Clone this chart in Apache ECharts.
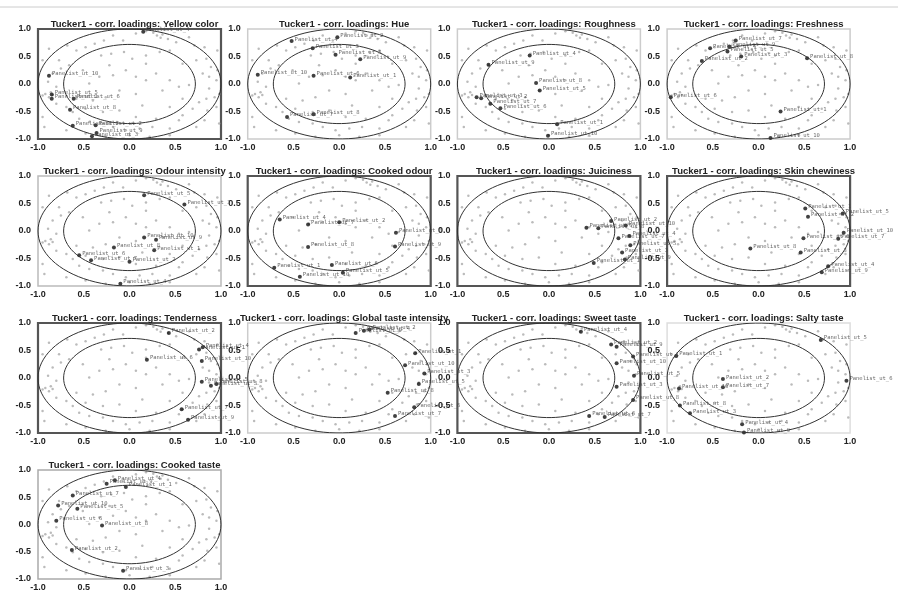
<!DOCTYPE html>
<html>
<head>
<meta charset="utf-8">
<title>Tucker1 - corr. loadings</title>
<script src="https://cdn.jsdelivr.net/npm/echarts@6/dist/echarts.min.js"></script>
<style>
    html, body { margin: 0; padding: 0; background: #fff; }
    #chart { width: 898px; height: 592px; }
</style>
</head>
<body>
<div id="chart"></div>
<script type="text/javascript">
    // attribute names, one panel each
    var attributes = ['Yellow color', 'Hue', 'Roughness', 'Freshness', 'Odour intensity', 'Cooked odour',
        'Juiciness', 'Skin chewiness', 'Tenderness', 'Global taste intensity', 'Sweet taste', 'Salty taste', 'Cooked taste'];

    var xTickLabels = ['-1.0', '0.5', '0.0', '0.5', '1.0'];
    var yTickLabels = ['-1.0', '-0.5', '0.0', '0.5', '1.0'];

    // panelist loadings per attribute: [x, y, panelist no]
    var yellowColor = [[0.15, 0.95, 4], [-0.88, 0.15, 10], [-0.85, -0.19, 5], [-0.85, -0.27, 1], [-0.61, -0.27, 6],
        [-0.65, -0.47, 8], [-0.62, -0.76, 7], [-0.37, -0.75, 2], [-0.36, -0.89, 9], [-0.41, -0.95, 3]];
    var hue = [[-0.52, 0.78, 4], [-0.02, 0.85, 2], [-0.29, 0.65, 3], [-0.04, 0.53, 5], [0.23, 0.45, 9],
        [-0.89, 0.17, 10], [-0.28, 0.15, 6], [0.12, 0.12, 1], [-0.28, -0.55, 8], [-0.57, -0.60, 7]];
    var roughness = [[-0.21, 0.52, 4], [-0.66, 0.35, 9], [-0.14, 0.02, 8], [-0.10, -0.12, 5], [-0.79, -0.24, 3],
        [-0.74, -0.26, 2], [-0.64, -0.36, 7], [-0.53, -0.44, 6], [0.09, -0.73, 1], [-0.01, -0.94, 10]];
    var freshness = [[-0.25, 0.79, 7], [-0.53, 0.65, 4], [-0.32, 0.68, 9], [-0.34, 0.59, 5], [-0.19, 0.50, 3],
        [-0.62, 0.42, 2], [0.53, 0.47, 8], [-0.96, -0.24, 6], [0.24, -0.50, 1], [0.13, -0.98, 10]];
    var odourIntensity = [[0.16, 0.65, 5], [0.60, 0.48, 3], [0.16, -0.12, 10], [0.29, -0.16, 9], [-0.17, -0.30, 8],
        [0.27, -0.35, 1], [-0.55, -0.44, 6], [-0.42, -0.53, 7], [0.00, -0.56, 2], [-0.10, -0.96, 4]];
    var cookedOdour = [[-0.65, 0.21, 4], [-0.34, 0.12, 7], [0.00, 0.16, 2], [0.62, -0.03, 3], [0.61, -0.28, 9],
        [-0.34, -0.29, 8], [-0.08, -0.62, 6], [0.04, -0.76, 5], [-0.71, -0.67, 1], [-0.43, -0.83, 10]];
    var juiciness = [[0.68, 0.18, 2], [0.41, 0.06, 6], [0.54, 0.05, 8], [0.84, 0.10, 10], [0.88, -0.09, 4],
        [0.76, -0.13, 7], [0.89, -0.26, 5], [0.80, -0.39, 3], [0.83, -0.52, 9], [0.49, -0.58, 1]];
    var skinChewiness = [[0.51, 0.41, 1], [0.54, 0.26, 2], [0.92, 0.32, 5], [0.93, -0.03, 10], [0.87, -0.14, 7],
        [0.49, -0.13, 6], [-0.09, -0.32, 8], [0.46, -0.39, 3], [0.76, -0.64, 4], [0.69, -0.75, 9]];
    var tenderness = [[0.43, 0.82, 2], [0.76, 0.52, 1], [0.80, 0.56, 4], [0.19, 0.33, 6], [0.79, 0.31, 10],
        [0.79, -0.07, 5], [0.89, -0.14, 3], [0.95, -0.11, 8], [0.57, -0.57, 7], [0.64, -0.76, 9]];
    var globalTaste = [[0.18, 0.82, 9], [0.33, 0.88, 2], [0.27, 0.86, 4], [0.83, 0.45, 1], [0.72, 0.23, 10],
        [0.93, 0.08, 3], [0.87, -0.11, 5], [0.53, -0.27, 8], [0.82, -0.53, 6], [0.61, -0.69, 7]];
    var sweetTaste = [[0.35, 0.84, 4], [0.68, 0.61, 2], [0.74, 0.57, 9], [0.92, 0.39, 1], [0.74, 0.27, 10],
        [0.93, 0.04, 5], [0.74, -0.16, 3], [0.92, -0.40, 8], [0.44, -0.69, 6], [0.61, -0.71, 7]];
    var saltyTaste = [[0.68, 0.69, 5], [-0.90, 0.40, 1], [-0.39, -0.02, 2], [-0.39, -0.17, 7], [0.96, -0.05, 6],
        [-0.87, -0.19, 10], [-0.86, -0.50, 8], [-0.75, -0.64, 3], [-0.18, -0.84, 4], [-0.16, -0.99, 9]];
    var cookedTaste = [[-0.16, 0.81, 4], [-0.25, 0.75, 9], [-0.04, 0.69, 1], [-0.62, 0.53, 7], [-0.78, 0.35, 10],
        [-0.57, 0.29, 5], [-0.80, 0.07, 6], [-0.30, -0.02, 8], [-0.63, -0.47, 2], [-0.07, -0.85, 3]];

    // grey loadings shown behind every panel
    var greyPoints = [[-0.28, 0.79], [-0.18, 0.88], [-0.07, 0.79], [0.07, 0.92], [0.18, 0.96], [0.26, 0.93],
        [0.36, 0.90], [0.42, 0.82], [0.51, 0.76], [0.65, 0.85], [0.71, 0.70], [0.82, 0.67], [-0.68, 0.70],
        [-0.58, 0.61], [-0.48, 0.67], [-0.38, 0.73], [-0.31, 0.52], [-0.20, 0.55], [-0.06, 0.58], [0.03, 0.46],
        [0.18, 0.52], [0.33, 0.58], [0.44, 0.61], [0.58, 0.37], [0.73, 0.43], [0.84, 0.46], [0.89, 0.31],
        [0.96, 0.25], [0.95, 0.07], [0.87, 0.13], [0.80, 0.19], [0.87, -0.08], [0.93, -0.24], [0.84, -0.27],
        [0.76, -0.33], [0.95, -0.42], [0.85, -0.48], [0.69, -0.45], [0.58, -0.57], [0.54, -0.66], [0.82, -0.66],
        [0.73, -0.78], [0.44, -0.81], [0.25, -0.78], [0.11, -0.81], [-0.04, -0.84], [-0.18, -0.78], [-0.29, -0.72],
        [-0.44, -0.69], [-0.55, -0.63], [-0.62, -0.51], [-0.69, -0.42], [-0.80, -0.36], [-0.88, -0.24],
        [-0.95, -0.21], [-0.86, -0.15], [-0.80, -0.05], [-0.89, 0.04], [-0.84, 0.19], [-0.75, 0.28], [-0.66, 0.34],
        [-0.51, 0.25], [-0.77, 0.43], [-0.44, 0.01], [-0.33, 0.13], [-0.18, 0.16], [-0.04, 0.25], [0.07, 0.13],
        [0.18, 0.07], [0.29, 0.19], [0.44, 0.07], [0.54, -0.05], [0.36, -0.12], [0.07, -0.18], [-0.11, -0.12],
        [-0.26, -0.24], [-0.40, -0.30], [-0.48, -0.45], [-0.58, -0.27], [0.14, -0.39], [0.44, -0.42], [0.58, -0.27],
        [-0.11, -0.48], [-0.29, -0.51], [0.07, -0.60], [0.29, -0.63], [0.00, -0.93], [-0.26, -0.96], [0.22, -0.96],
        [0.44, -0.93], [-0.48, -0.90], [-0.69, -0.84], [-0.93, -0.78], [-0.95, -0.60], [-0.95, 0.43], [-0.88, 0.64],
        [0.96, 0.61], [0.98, -0.72], [0.98, -0.18], [0.65, -0.02], [-0.22, 0.34], [0.18, 0.37], [-0.92, -0.18],
        [-0.84, -0.20], [0.30, 0.88], [0.34, 0.84]];

    var circleRadii = [1, 0.72];

    var panels = [yellowColor, hue, roughness, freshness, odourIntensity, cookedOdour, juiciness,
        skinChewiness, tenderness, globalTaste, sweetTaste, saltyTaste, cookedTaste];
    // frame colour of each panel
    var frames = ['#555', '#ccc', '#ccc', '#ccc', '#bbb', '#555', '#555', '#555', '#555', '#ccc', '#555', '#ddd', '#aaa'];

    var colLeft = 38, colStep = 209.7, rowTop = 29, rowStep = 147, plotW = 183, plotH = 110;
    var axisFont = {fontFamily: 'Liberation Sans', fontWeight: 'bold', fontSize: 9, color: '#222'};

    function circle(r) {
        var pts = [];
        for (var a = 0; a <= 360; a += 4) {
            pts.push([r * Math.cos(a * Math.PI / 180), r * Math.sin(a * Math.PI / 180)]);
        }
        return pts;
    }

    var grids = [], xAxes = [], yAxes = [], titles = [], series = [];
    panels.forEach(function (pts, i) {
        var left = colLeft + (i % 4) * colStep;
        var top = rowTop + Math.floor(i / 4) * rowStep;
        grids.push({
            left: left, top: top, width: plotW, height: plotH,
            show: true, borderColor: frames[i], borderWidth: frames[i] === '#555' ? 2.2 : 1.5,
            backgroundColor: 'transparent'
        });
        titles.push({
            text: 'Tucker1 - corr. loadings: ' + attributes[i],
            left: left + plotW / 2, top: top - 15, textAlign: 'center',
            textStyle: {fontFamily: 'Liberation Sans', fontWeight: 'bold', fontSize: 9.5, color: '#222'}
        });
        xAxes.push({
            gridIndex: i, type: 'value', min: -1, max: 1, interval: 0.5,
            axisLine: {show: false}, axisTick: {show: false}, splitLine: {show: false},
            axisLabel: Object.assign({
                margin: 4, showMinLabel: true, showMaxLabel: true,
                formatter: function (v) { return xTickLabels[Math.round((v + 1) / 0.5)]; }
            }, axisFont)
        });
        yAxes.push({
            gridIndex: i, type: 'value', min: -1, max: 1, interval: 0.5,
            axisLine: {show: false}, axisTick: {show: false}, splitLine: {show: false},
            axisLabel: Object.assign({
                margin: 7, showMinLabel: true, showMaxLabel: true,
                formatter: function (v) { return yTickLabels[Math.round((v + 1) / 0.5)]; }
            }, axisFont)
        });
        circleRadii.forEach(function (r) {
            series.push({
                type: 'line', xAxisIndex: i, yAxisIndex: i, data: circle(r), showSymbol: false,
                silent: true, lineStyle: {color: '#333', width: 1}
            });
        });
        series.push({
            type: 'scatter', xAxisIndex: i, yAxisIndex: i, data: greyPoints, symbolSize: 2.5,
            silent: true, itemStyle: {color: '#aaa'}
        });
        series.push({
            type: 'scatter', xAxisIndex: i, yAxisIndex: i, symbolSize: 4,
            itemStyle: {color: '#111'},
            data: pts.map(function (p) { return {value: [p[0], p[1]], name: 'Panelist_ut_' + p[2]}; }),
            label: {
                show: true, position: 'right', distance: 1, offset: [0, -2],
                formatter: '{b}', fontFamily: 'DejaVu Sans Mono', fontSize: 5.5, color: '#444'
            }
        });
    });

    var myChart = echarts.init(document.getElementById('chart'));
    myChart.setOption({
        animation: false,
        title: titles,
        grid: grids,
        xAxis: xAxes,
        yAxis: yAxes,
        series: series,
        // thin rule along the top of the page
        graphic: [{
            type: 'line', silent: true,
            shape: {x1: 0, y1: 7, x2: 898, y2: 7},
            style: {stroke: '#ccc', lineWidth: 1}
        }]
    });
</script>
</body>
</html>
